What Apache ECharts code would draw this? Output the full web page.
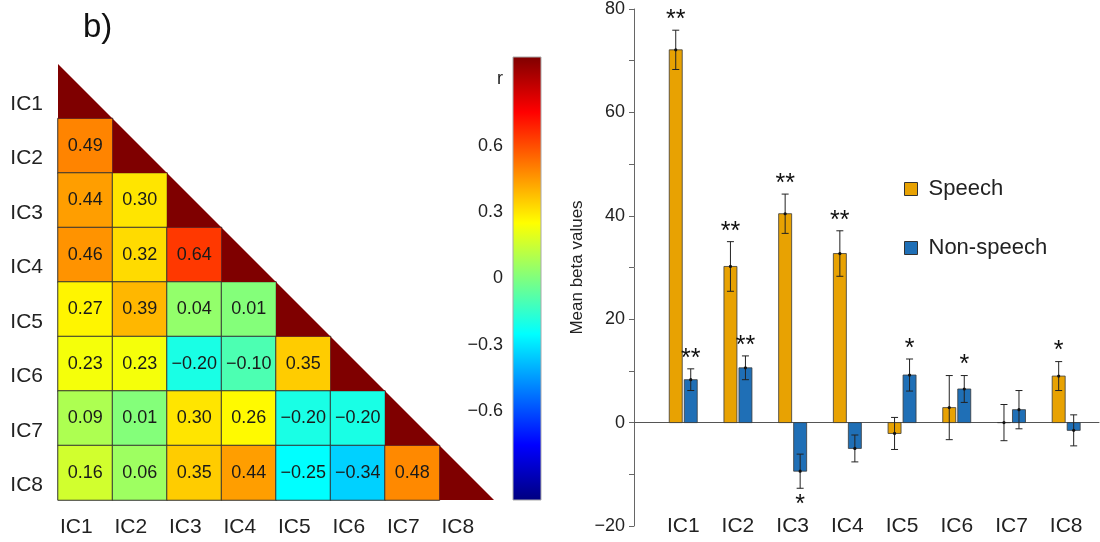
<!DOCTYPE html>
<html>
<head>
<meta charset="utf-8">
<script src="https://cdn.jsdelivr.net/npm/echarts@6/dist/echarts.min.js"></script>
<style>
html,body{margin:0;padding:0;background:#fff;}
#chart{width:1100px;height:542px;}
</style>
</head>
<body>
<div id="chart"></div>
<script>
// ---------- DATA ----------
const components = ['IC1','IC2','IC3','IC4','IC5','IC6','IC7','IC8'];
// lower-triangle correlations, row i (IC(i+1)) vs columns IC1..IC(i)
const corrRows = [
  [],
  [0.49],
  [0.44, 0.30],
  [0.46, 0.32, 0.64],
  [0.27, 0.39, 0.04, 0.01],
  [0.23, 0.23, -0.20, -0.10, 0.35],
  [0.09, 0.01, 0.30, 0.26, -0.20, -0.20],
  [0.16, 0.06, 0.35, 0.44, -0.25, -0.34, 0.48]
];
const diagonalValue = 1;
const colorRange = [-1, 1];
const colorbarTicks = [-0.6, -0.3, 0, 0.3, 0.6, 0.9];
const colorbarTitle = 'r';

const barCategories = ['IC1','IC2','IC3','IC4','IC5','IC6','IC7','IC8'];
const speechMean = [72.1, 30.2, 40.4, 32.7, -2.1, 2.9, 0.0, 9.0];
const speechErr  = [3.8, 4.8, 3.8, 4.4, 3.1, 6.2, 3.5, 2.8];
const speechStars = ['**','**','**','**','','','','*'];
const nonSpeechMean = [8.3, 10.6, -9.4, -5.0, 9.2, 6.5, 2.5, -1.5];
const nonSpeechErr  = [2.1, 2.3, 3.3, 2.6, 3.1, 2.6, 3.7, 3.0];
const nonSpeechStars = ['**','**','*','','*','*','',''];

// ---------- BUILD ----------
const FONT = "'Liberation Sans', Arial, Helvetica, sans-serif";
const jet = ['#00007F','#0000FF','#007FFF','#00FFFF','#7FFF7F','#FFFF00','#FF7F00','#FF0000','#7F0000'];
const fmtR = v => (v < 0 ? '\u2212' : '') + Math.abs(v).toFixed(2);

const heatData = [];
corrRows.forEach((row, i) => row.forEach((v, j) => heatData.push([j, i, v])));
const diagData = components.map((c, i) => [i, i, diagonalValue]);

function barRenderer(offset, color, stars) {
  return function (params, api) {
    const x = api.value(0), v = api.value(1), e = api.value(2);
    const base = api.coord([x, 0]);
    const top = api.coord([x, v]);
    const hi = api.coord([x, v + e]);
    const lo = api.coord([x, v - e]);
    const cx = base[0] + offset;
    const bw = 13, cap = 3.5;
    const children = [
      {type: 'rect', shape: {x: cx - bw / 2, y: Math.min(base[1], top[1]), width: bw, height: Math.abs(top[1] - base[1])},
       style: {fill: color, stroke: '#3a3a3a', lineWidth: 0.8}},
      {type: 'line', shape: {x1: cx, y1: hi[1], x2: cx, y2: lo[1]}, style: {stroke: '#222', lineWidth: 1}},
      {type: 'line', shape: {x1: cx - cap, y1: hi[1], x2: cx + cap, y2: hi[1]}, style: {stroke: '#222', lineWidth: 1}},
      {type: 'line', shape: {x1: cx - cap, y1: lo[1], x2: cx + cap, y2: lo[1]}, style: {stroke: '#222', lineWidth: 1}},
      {type: 'circle', shape: {cx: cx, cy: top[1], r: 1.6}, style: {fill: '#111'}}
    ];
    const s = stars[params.dataIndex];
    if (s) {
      const below = v < 0;
      children.push({type: 'text', style: {text: s, x: cx, y: below ? lo[1] + 17 : hi[1] - 10,
        align: 'center', verticalAlign: 'middle', fontSize: 25, fontFamily: FONT, fill: '#111'}});
    }
    return {type: 'group', children: children};
  };
}

const chart = echarts.init(document.getElementById('chart'), null, {renderer: 'canvas'});
const option = {
  backgroundColor: '#fff',
  animation: false,
  textStyle: {fontFamily: FONT},
  graphic: [{type: 'text', left: 83, top: 11, style: {text: 'b)', fontSize: 33, fontFamily: FONT, fill: '#111'}}],
  grid: [
    {left: 58, top: 64, width: 436, height: 436},
    {left: 513, top: 57, width: 28, height: 443},
    {left: 634, top: 9, width: 465, height: 517}
  ],
  xAxis: [
    {gridIndex: 0, type: 'category', data: components, axisLine: {show: false}, axisTick: {show: false},
     axisLabel: {fontSize: 21, color: '#222', margin: 27, verticalAlign: 'middle', padding: [0, 18, 0, 0]}},
    {gridIndex: 1, type: 'category', data: [''], show: false},
    {gridIndex: 2, type: 'value', min: 0.1, max: 8.6, position: 'top',
     axisLine: {show: true, onZero: true, lineStyle: {color: '#555', width: 1}},
     axisTick: {show: false}, axisLabel: {show: false}, splitLine: {show: false}},
    {gridIndex: 2, type: 'value', min: 0.1, max: 8.6, position: 'bottom',
     axisLine: {show: false, onZero: false}, axisTick: {show: false}, splitLine: {show: false},
     axisLabel: {customValues: barCategories.map((c, i) => i + 1), formatter: v => barCategories[Math.round(v) - 1],
       fontSize: 21, color: '#222', margin: 0, verticalAlign: 'middle'}}
  ],
  yAxis: [
    {gridIndex: 0, type: 'category', data: components, inverse: true, axisLine: {show: false}, axisTick: {show: false},
     axisLabel: {fontSize: 21, color: '#222', margin: 15, verticalAlign: 'top', padding: [2, 0, 0, 0]}},
    {gridIndex: 1, type: 'value', min: colorRange[0], max: colorRange[1], splitLine: {show: false},
     axisLine: {show: false},
     axisTick: {show: true, inside: true, length: 5, customValues: colorbarTicks, lineStyle: {color: '#555'}},
     axisLabel: {customValues: colorbarTicks, fontSize: 18, color: '#222', margin: 10,
       formatter: v => Math.abs(v - 0.9) < 1e-6 ? colorbarTitle : (v === 0 ? '0' : (v < 0 ? '\u2212' : '') + Math.abs(v).toFixed(1))}},
    {gridIndex: 2, type: 'value', min: -20, max: 80, interval: 10, splitLine: {show: false},
     axisLine: {show: true, onZero: false, lineStyle: {color: '#666'}},
     axisTick: {show: true, length: 5, lineStyle: {color: '#666'}},
     axisLabel: {fontSize: 18, color: '#222', margin: 9,
       formatter: v => (v % 20 === 0 ? (v < 0 ? '\u2212' + Math.abs(v) : String(v)) : '')},
     name: 'Mean beta values', nameLocation: 'middle', nameRotate: 90, nameGap: 48,
     nameTextStyle: {fontSize: 17, color: '#222'}}
  ],
  visualMap: {type: 'continuous', show: false, min: colorRange[0], max: colorRange[1], dimension: 2,
    seriesIndex: [0, 1], inRange: {color: jet}},
  legend: {
    orient: 'vertical', left: 904, top: 178, padding: 0, itemWidth: 13, itemHeight: 13, itemGap: 37,
    selectedMode: false,
    itemStyle: {borderColor: '#333', borderWidth: 1},
    textStyle: {fontSize: 22, color: '#222', padding: [0, 0, 0, 6]},
    data: [{name: 'Speech', icon: 'rect'}, {name: 'Non-speech', icon: 'rect'}]
  },
  series: [
    {type: 'heatmap', xAxisIndex: 0, yAxisIndex: 0, data: heatData,
     itemStyle: {borderColor: '#333', borderWidth: 1},
     label: {show: true, formatter: p => fmtR(p.value[2]), fontSize: 18, color: '#1a1a1a'},
     emphasis: {disabled: true}},
    {type: 'custom', xAxisIndex: 0, yAxisIndex: 0, data: diagData,
     renderItem: function (params, api) {
       const c = api.coord([api.value(0), api.value(1)]);
       const s = api.size([1, 1]);
       return {type: 'polygon', shape: {points: [
         [c[0] - s[0] / 2, c[1] - s[1] / 2], [c[0] - s[0] / 2, c[1] + s[1] / 2], [c[0] + s[0] / 2, c[1] + s[1] / 2]]},
         style: {fill: api.visual('color')}};
     }},
    {type: 'custom', xAxisIndex: 1, yAxisIndex: 1, data: [[0, colorRange[0], colorRange[1]]], silent: true,
     renderItem: function (params, api) {
       const t = api.coord([0, api.value(2)]);
       const b = api.coord([0, api.value(1)]);
       const w = api.size([1, 0])[0];
       const stops = jet.map((c, i) => ({offset: i / (jet.length - 1), color: c}));
       return {type: 'rect', shape: {x: t[0] - w / 2, y: t[1], width: w, height: b[1] - t[1]},
         style: {fill: new echarts.graphic.LinearGradient(0, 1, 0, 0, stops), stroke: '#aaa', lineWidth: 1}};
     }},
    {name: 'Speech', type: 'custom', xAxisIndex: 2, yAxisIndex: 2,
     itemStyle: {color: '#E8A202'},
     data: speechMean.map((v, i) => [i + 1, v, speechErr[i]]),
     renderItem: barRenderer(-7.5, '#E8A202', speechStars)},
    {name: 'Non-speech', type: 'custom', xAxisIndex: 2, yAxisIndex: 2,
     itemStyle: {color: '#1F6FB6'},
     data: nonSpeechMean.map((v, i) => [i + 1, v, nonSpeechErr[i]]),
     renderItem: barRenderer(7.5, '#1F6FB6', nonSpeechStars)}
  ]
};
chart.setOption(option);
</script>
</body>
</html>
